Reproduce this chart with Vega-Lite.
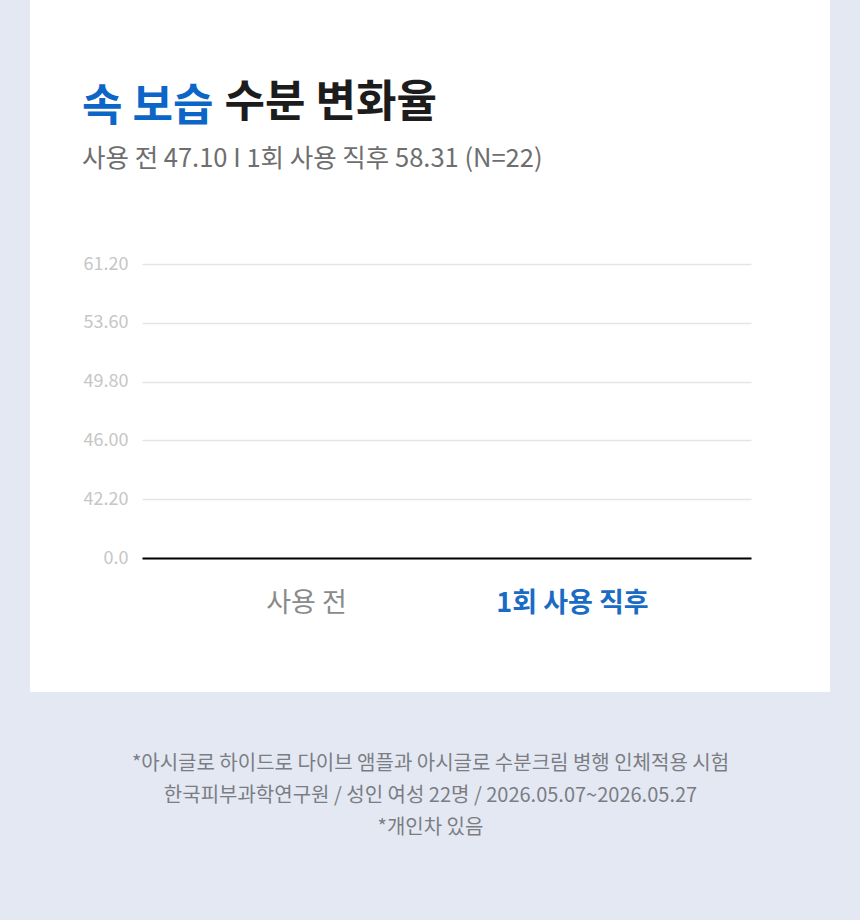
{
  "$schema": "https://vega.github.io/schema/vega-lite/v6.json",
  "width": 800,
  "height": 692,
  "autosize": {"type": "none"},
  "padding": {"left": 30, "right": 30, "top": 0, "bottom": 228},
  "background": "#e3e8f3",
  "title": {
    "text": "속 보습",
    "subtitle": "사용 전 47.10 I 1회 사용 직후 58.31 (N=22)",
    "anchor": "start",
    "frame": "group",
    "orient": "top",
    "offset": -172,
    "dx": 52,
    "font": "Noto Sans CJK KR",
    "fontSize": 44,
    "fontWeight": "bold",
    "color": "#0b66c8",
    "subtitleFont": "Noto Sans CJK KR",
    "subtitleFontSize": 25.5,
    "subtitleColor": "#6e6e6e",
    "subtitlePadding": 17
  },
  "data": {
    "values": [
      {"구분": "사용 전", "값": 47.10},
      {"구분": "1회 사용 직후", "값": 58.31}
    ]
  },
  "mark": {"type": "bar", "opacity": 0, "size": 60},
  "encoding": {
    "x": {
      "field": "구분",
      "type": "nominal",
      "sort": null,
      "scale": {"type": "point", "range": [112, 721], "padding": 0.645, "align": 0.478},
      "axis": {
        "orient": "bottom",
        "offset": -134,
        "domainColor": "#000000",
        "domainWidth": 2,
        "ticks": false,
        "grid": false,
        "labelAngle": 0,
        "labelPadding": 32,
        "labelFont": "Noto Sans CJK KR",
        "labelFontSize": 27,
        "labelColor": {"condition": {"test": "datum.value == '사용 전'", "value": "#8a8a8a"}, "value": "#1a6bc4"},
        "labelFontWeight": {"condition": {"test": "datum.value == '사용 전'", "value": "normal"}, "value": "bold"},
        "title": [
          "*아시글로 하이드로 다이브 앰플과 아시글로 수분크림 병행 인체적용 시험",
          "한국피부과학연구원 / 성인 여성 22명 / 2026.05.07~2026.05.27",
          "*개인차 있음"
        ],
        "titleX": 400,
        "titleY": 195,
        "titleAlign": "center",
        "titleAnchor": "middle",
        "titleBaseline": "top",
        "titleFont": "Noto Sans CJK KR",
        "titleFontSize": 20,
        "titleFontWeight": "normal",
        "titleColor": "#7b7d83",
        "titleLineHeight": 32
      }
    },
    "y": {
      "field": "값",
      "type": "quantitative",
      "scale": {"domain": [0, 42.2, 53.6, 61.2], "range": [558, 499.2, 322.8, 264], "nice": false, "zero": false},
      "axis": {
        "offset": -112,
        "values": [0, 42.2, 46, 49.8, 53.6, 61.2],
        "labelExpr": "datum.value == 0 ? '0.0' : format(datum.value, '.2f')",
        "domain": false,
        "ticks": false,
        "grid": true,
        "gridColor": "#e5e5e5",
        "gridWidth": 1.5,
        "labelPadding": 14,
        "labelFont": "Noto Sans CJK KR",
        "labelFontSize": 18,
        "labelColor": "#c6c6c6",
        "title": "수분 변화율",
        "titleAngle": 0,
        "titleX": 82,
        "titleY": 116,
        "titleAlign": "left",
        "titleBaseline": "alphabetic",
        "titleFont": "Noto Sans CJK KR",
        "titleFontSize": 44,
        "titleFontWeight": "bold",
        "titleColor": "#1c1c1c"
      }
    }
  },
  "config": {
    "view": {"fill": "#ffffff", "stroke": null}
  }
}
